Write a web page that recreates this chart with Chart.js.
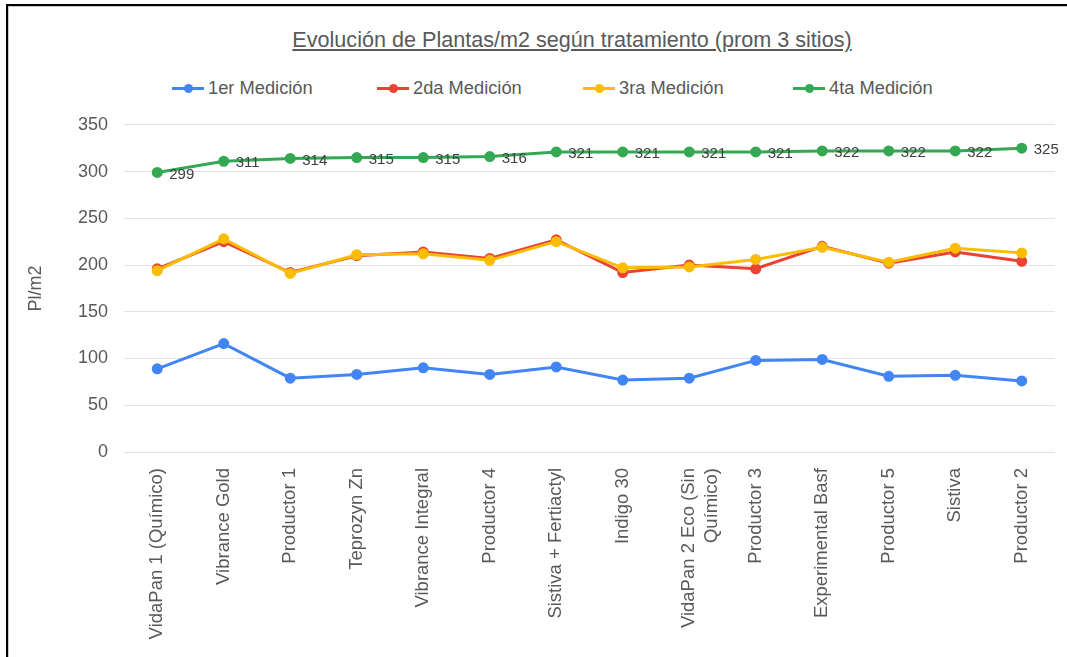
<!DOCTYPE html>
<html lang="es">
<head>
    <meta charset="UTF-8">
    <title>Evolución de Plantas/m2</title>
    <style>
        body {
            margin: 0;
            width: 1067px;
            height: 657px;
            overflow: hidden;
            background: #fff;
            font-family: "Liberation Sans", Arial, sans-serif;
            position: relative;
        }
        .frame {
            position: absolute;
            left: 6px;
            top: 4px;
            width: 1070px;
            height: 670px;
            border-top: 2px solid #000;
            border-left: 2px solid #000;
            box-shadow: inset 1px 1px 0 #c8c8c8;
        }
        .title {
            position: absolute;
            left: 0;
            top: 27px;
            width: 1144px;
            text-align: center;
            font-size: 21.6px;
            color: #595959;
            text-decoration: underline;
        }
        .legend-item {
            position: absolute;
            top: 78px;
            height: 20px;
            display: flex;
            align-items: center;
            font-size: 18.3px;
            color: #595959;
        }
        .legend-item .mark {
            position: relative;
            width: 32px;
            height: 3px;
            margin-right: 4px;
        }
        .legend-item .mark::after {
            content: "";
            position: absolute;
            left: 12px;
            top: -3px;
            width: 9px;
            height: 9px;
            border-radius: 50%;
            background: inherit;
        }
        #wrap {
            position: absolute;
            left: 0;
            top: 98px;
            width: 1067px;
            height: 559px;
        }
    </style>
    <script src="https://cdn.jsdelivr.net/npm/chart.js"></script>
</head>
<body>
    <div class="frame"></div>
    <div class="title">Evolución de Plantas/m2 según tratamiento (prom 3 sitios)</div>
    <div id="legend"></div>
    <div id="wrap"><canvas id="chart"></canvas></div>
    <script>
        // categorias (tratamientos)
        const tratamientos = [
            'VidaPan 1 (Químico)', 'Vibrance Gold', 'Productor 1', 'Teprozyn Zn',
            'Vibrance Integral', 'Productor 4', 'Sistiva + Fertiactyl', 'Indigo 30',
            ['VidaPan 2 Eco (Sin', 'Químico)'], 'Productor 3', 'Experimental Basf',
            'Productor 5', 'Sistiva', 'Productor 2'
        ];

        // valores
        const medicion1 = [89, 116, 79, 83, 90, 83, 91, 77, 79, 98, 99, 81, 82, 76];
        const medicion2 = [196, 225, 192, 210, 214, 207, 227, 192, 200, 196, 220, 202, 214, 204];
        const medicion3 = [194, 228, 191, 211, 212, 205, 225, 197, 198, 206, 219, 203, 218, 213];
        const medicion4 = [299, 311, 314, 315, 315, 316, 321, 321, 321, 321, 322, 322, 322, 325];

        const nombres = ['1er Medición', '2da Medición', '3ra Medición', '4ta Medición'];
        const colores = ['#4285F4', '#EA4335', '#FBBC04', '#34A853'];
        const yTicks = [0, 50, 100, 150, 200, 250, 300, 350];

        // leyenda en html
        const legendLeft = [172, 377, 583, 793];
        const legend = document.getElementById('legend');
        nombres.forEach((n, i) => {
            const item = document.createElement('div');
            item.className = 'legend-item';
            item.style.left = legendLeft[i] + 'px';
            item.innerHTML = `<span class="mark" style="background:${colores[i]}"></span><span>${n}</span>`;
            legend.appendChild(item);
        });

        // etiquetas de valor para la 4ta medicion
        const valueLabels = {
            id: 'valueLabels',
            afterDatasetsDraw(chart) {
                const ctx = chart.ctx;
                const meta = chart.getDatasetMeta(3);
                ctx.save();
                ctx.font = '15px "Liberation Sans", Arial, sans-serif';
                ctx.fillStyle = '#404040';
                ctx.textAlign = 'left';
                ctx.textBaseline = 'middle';
                meta.data.forEach((pt, i) => {
                    ctx.fillText(String(medicion4[i]), pt.x + 12, pt.y + 2);
                });
                ctx.restore();
            }
        };

        const series = [medicion1, medicion2, medicion3, medicion4];
        const orden = [3, 2, 1, 0];

        new Chart(document.getElementById('chart'), {
            type: 'line',
            data: {
                labels: tratamientos,
                datasets: series.map((s, i) => ({
                    label: nombres[i],
                    data: s,
                    borderColor: colores[i],
                    backgroundColor: colores[i],
                    borderWidth: 3,
                    pointRadius: 4,
                    pointHoverRadius: 4,
                    tension: 0,
                    order: orden[i]
                }))
            },
            options: {
                responsive: true,
                maintainAspectRatio: false,
                animation: false,
                layout: {
                    padding: { left: 0, right: 12, top: 2, bottom: 0 }
                },
                plugins: {
                    legend: { display: false },
                    tooltip: { enabled: false }
                },
                scales: {
                    x: {
                        offset: true,
                        grid: { display: false },
                        border: { display: false },
                        ticks: {
                            autoSkip: false,
                            minRotation: 90,
                            maxRotation: 90,
                            padding: 8,
                            color: '#595959',
                            font: { size: 18.5, family: '"Liberation Sans", Arial, sans-serif' }
                        },
                        afterFit(scale) { scale.height = 205; }
                    },
                    y: {
                        min: 0,
                        max: 350,
                        afterBuildTicks(scale) {
                            scale.ticks = yTicks.map(v => ({ value: v }));
                        },
                        grid: { color: '#e3e3e3', lineWidth: 1, drawTicks: false },
                        border: { display: false },
                        ticks: {
                            padding: 16,
                            color: '#595959',
                            font: { size: 18, family: '"Liberation Sans", Arial, sans-serif' }
                        },
                        title: {
                            display: true,
                            text: 'Pl/m2',
                            color: '#595959',
                            padding: { top: 25, bottom: 0 },
                            font: { size: 18, family: '"Liberation Sans", Arial, sans-serif' }
                        },
                        afterFit(scale) { scale.width = 124; }
                    }
                }
            },
            plugins: [valueLabels]
        });
    </script>
</body>
</html>
